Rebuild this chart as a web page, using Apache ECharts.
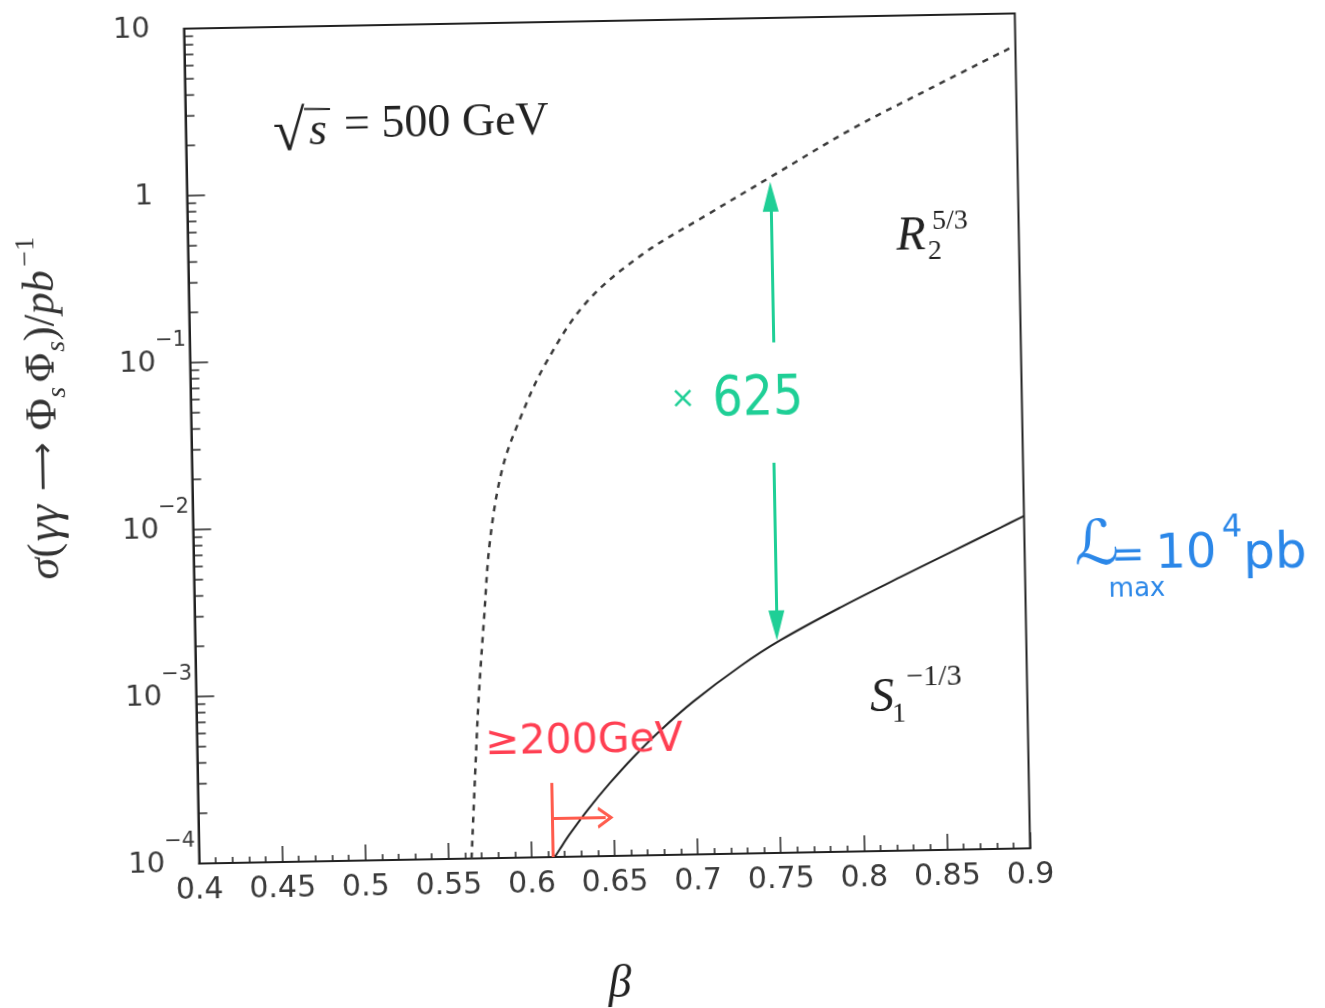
<!DOCTYPE html>
<html><head><meta charset="utf-8">
<script src="https://cdn.jsdelivr.net/npm/echarts@6/dist/echarts.min.js"></script>
<style>
html,body{margin:0;padding:0;background:#fff;overflow:hidden;}
#c{width:1325px;height:1008px;transform:rotate(-1.05deg);transform-origin:607px 438.5px;}
</style></head><body><div id="c"></div>
<script>
// ---- data ----
const betaDotted  = [0.5639, 0.5675, 0.5700, 0.5740, 0.5786, 0.5867, 0.5980, 0.6140, 0.6388, 0.6724, 0.7133, 0.7516, 0.8004, 0.8490, 0.8977];
const sigmaDotted = [1.0e-4, 3.88e-4, 9.29e-4, 2.69e-3, 8.13e-3, 2.14e-2, 4.27e-2, 9.06e-2, 0.206, 0.391, 0.679, 1.12, 2.11, 3.66, 6.27];
const betaSolid   = [0.614, 0.617, 0.623, 0.634, 0.648, 0.662, 0.679, 0.699, 0.728, 0.752, 0.789, 0.825, 0.855, 0.886, 0.900];
const sigmaSolid  = [1.0e-4, 1.109e-4, 1.355e-4, 1.884e-4, 2.738e-4, 3.853e-4, 5.587e-4, 8.23e-4, 1.331e-3, 1.874e-3, 2.919e-3, 4.346e-3, 6.013e-3, 8.41e-3, 9.79e-3];
const xTickLabels = ['0.4','0.45','0.5','0.55','0.6','0.65','0.7','0.75','0.8','0.85','0.9'];
const yTickExponents = [-4, -3, -2, -1, 0, 1];
const yLabelBase = ['10','10','10','10','1','10'];
const yLabelExp  = ['\u22124','\u22123','\u22122','\u22121','',''];
// hand-drawn annotations (data coordinates)
const arrowUp   = {beta: 0.751, from: 0.114, to: 0.85};
const arrowDown = {beta: 0.750, from: 0.0217, to: 2.30e-3};
const thresholdBeta = 0.613;
const thresholdBar = {from: 1.0e-4, to: 2.78e-4};
const thresholdArrow = {y: 1.70e-4, to: 0.645};

const yMinorTicks = [];
for (let k = -4; k <= 0; k++) for (let m = 2; m <= 9; m++) yMinorTicks.push(m * Math.pow(10, k));

// ---- helpers for positioning text in the (slightly rotated) scanned frame ----
const TH = 1.05 * Math.PI / 180, CX = 607, CY = 438.5;
function P(x, y) { const rx = x - CX, ry = y - CY; return [CX + rx * Math.cos(TH) - ry * Math.sin(TH), CY + rx * Math.sin(TH) + ry * Math.cos(TH)]; }
function T(x, y, text, st, extra) {
  const p = P(x, y);
  return Object.assign({type: 'text', x: p[0], y: p[1], silent: true, z: 10,
    style: Object.assign({text: text, align: 'center', verticalAlign: 'middle', fill: '#222'}, st)}, extra || {});
}
const SERIF = 'Liberation Serif, DejaVu Serif, serif';
const SANS = 'DejaVu Sans, Liberation Sans, sans-serif';
const HAND = 'DejaVu Sans, sans-serif';
const GREEN = '#1fcf96', RED = '#ff3f52', ORANGE = '#ff5c4d', BLUE = '#2b87e8';

const bar1 = P(304, 109), bar2 = P(330, 109);

const chart = echarts.init(document.getElementById('c'), null, {renderer: 'canvas'});
chart.setOption({
  animation: false,
  backgroundColor: '#fff',
  grid: {left: 191.5, top: 21, width: 831, height: 835, show: true, borderColor: '#222', borderWidth: 2,
         backgroundColor: 'transparent', containLabel: false, outerBoundsMode: 'none'},
  xAxis: {
    type: 'value', min: 0.4, max: 0.9, interval: 0.05,
    axisLine: {show: true, lineStyle: {color: '#222', width: 2}},
    axisTick: {show: true, inside: true, length: 16, lineStyle: {color: '#222', width: 1.5}},
    minorTick: {show: true, splitNumber: 5, length: 6, lineStyle: {color: '#222', width: 1.5}},
    splitLine: {show: false}, minorSplitLine: {show: false},
    axisLabel: {show: true, margin: 12, fontSize: 30, fontFamily: SANS, color: '#3a3a3a', showMinLabel: true, showMaxLabel: true,
      formatter: v => xTickLabels[Math.round((v - 0.4) / 0.05)]}
  },
  yAxis: {
    type: 'log', logBase: 10, min: 1e-4, max: 10,
    axisLine: {show: true, lineStyle: {color: '#222', width: 2}},
    axisTick: {show: true, inside: true, length: 18, lineStyle: {color: '#222', width: 1.5}},
    minorTick: {show: false}, splitLine: {show: false},
    axisLabel: {show: true, margin: 4, showMinLabel: true, showMaxLabel: true,
      formatter: v => {
        const e = Math.round(Math.log10(v));
        const i = yTickExponents.indexOf(e);
        return yLabelExp[i] ? '{b|' + yLabelBase[i] + '}{s|' + yLabelExp[i] + '}' : '{b|' + yLabelBase[i] + '}{z|}';
      },
      rich: {
        b: {fontSize: 29, fontFamily: SANS, color: '#3a3a3a'},
        s: {fontSize: 21, fontFamily: SANS, color: '#3a3a3a', width: 30, align: 'left', padding: [0, 0, 44, 0]},
        z: {width: 30}
      }
    }
  },
  series: [
    {type: 'line', name: 'R2', data: betaDotted.map((b, i) => [b, sigmaDotted[i]]), showSymbol: false, smooth: 0.35,
     lineStyle: {color: '#3a3a3a', width: 2.5, type: [6, 6]}, z: 4},
    {type: 'line', name: 'S1', data: betaSolid.map((b, i) => [b, sigmaSolid[i]]), showSymbol: false, smooth: 0.35,
     lineStyle: {color: '#222', width: 2}, z: 4},
    {type: 'custom', name: 'minorTicksY', data: yMinorTicks.map(v => [0.4, v]), silent: true, z: 3,
     renderItem: (params, api) => {
       const p = api.coord([api.value(0), api.value(1)]);
       return {type: 'line', shape: {x1: p[0], y1: p[1], x2: p[0] + 9, y2: p[1]}, style: {stroke: '#222', lineWidth: 1.5}};
     }},
    {type: 'line', name: 'notes', data: [], silent: true, z: 6,
     markLine: {silent: true, animation: false, label: {show: false}, symbol: ['none', 'none'],
       emphasis: {disabled: true},
       data: [
         [{coord: [arrowUp.beta, arrowUp.from], symbol: 'none', lineStyle: {color: GREEN, width: 3, type: 'solid'}},
          {coord: [arrowUp.beta, arrowUp.to], symbol: 'triangle', symbolSize: [16, 30], lineStyle: {color: GREEN, width: 3, type: 'solid'}}],
         [{coord: [arrowDown.beta, arrowDown.from], symbol: 'none', lineStyle: {color: GREEN, width: 3, type: 'solid'}},
          {coord: [arrowDown.beta, arrowDown.to], symbol: 'triangle', symbolSize: [16, 30], lineStyle: {color: GREEN, width: 3, type: 'solid'}}],
         [{coord: [thresholdBeta, thresholdBar.from], symbol: 'none', lineStyle: {color: ORANGE, width: 3, type: 'solid'}},
          {coord: [thresholdBeta, thresholdBar.to], symbol: 'none', lineStyle: {color: ORANGE, width: 3, type: 'solid'}}],
         [{coord: [thresholdBeta, thresholdArrow.y], symbol: 'none', lineStyle: {color: ORANGE, width: 3, type: 'solid'}},
          {coord: [thresholdArrow.to, thresholdArrow.y], symbol: 'path://M0,20 L10,0 L20,20 L17,21 L10,7 L3,21 Z', symbolSize: [22, 16], lineStyle: {color: ORANGE, width: 3, type: 'solid'}}]
       ]}}
  ],
  graphic: [
    // sqrt(s) = 500 GeV
    T(289, 135, '\u221A', {fontFamily: SERIF, fontSize: 58}),
    T(318, 132, 's', {fontFamily: SERIF, fontStyle: 'italic', fontSize: 46}),
    {type: 'line', silent: true, z: 10, shape: {x1: bar1[0], y1: bar1[1], x2: bar2[0], y2: bar2[1]}, style: {stroke: '#222', lineWidth: 2}},
    T(344, 126, '= 500 GeV', {fontFamily: SERIF, fontSize: 46, align: 'left'}),
    // R_2^{5/3}
    T(911, 237, 'R', {fontFamily: SERIF, fontStyle: 'italic', fontSize: 48}),
    T(935, 252, '2', {fontFamily: SERIF, fontSize: 28}),
    T(950, 221, '5/3', {fontFamily: SERIF, fontSize: 28}),
    // S_1^{-1/3}
    T(882, 698, 'S', {fontFamily: SERIF, fontStyle: 'italic', fontSize: 48}),
    T(899, 714, '1', {fontFamily: SERIF, fontSize: 28}),
    T(934, 677, '\u22121/3', {fontFamily: SERIF, fontSize: 30}),
    // axis titles
    T(620, 985, '\u03B2', {fontFamily: SERIF, fontStyle: 'italic', fontSize: 46}),
    T(44, 408, '{i|\u03C3}{u|(}{g|\u03B3\u03B3}{a|\u27F6}{u|\u03A6}{sb|s}{o|\u03A6\u0304}{sb|s}{u|)/}{i|pb}{sp|\u22121}', {
      fill: '#333',
      rich: {
        i: {fontFamily: SERIF, fontStyle: 'italic', fontSize: 44, fill: '#333'},
        g: {fontFamily: SERIF, fontStyle: 'italic', fontSize: 46, fill: '#333', padding: [0, 4, 0, 2]},
        u: {fontFamily: SERIF, fontSize: 44, fill: '#333'},
        o: {fontFamily: 'DejaVu Serif, serif', fontSize: 38, fill: '#333', padding: [0, 0, 0, 4]},
        a: {fontFamily: 'DejaVu Sans, sans-serif', fontSize: 34, fill: '#333', padding: [0, 12, 0, 10]},
        sb: {fontFamily: SERIF, fontStyle: 'italic', fontSize: 28, fill: '#333', padding: [28, 0, 0, 0]},
        sp: {fontFamily: SERIF, fontSize: 28, fill: '#333', padding: [0, 0, 30, 4]}
      }}, {rotation: Math.PI / 2}),
    // green annotation
    T(683, 400, '\u00D7', {fontFamily: HAND, fontSize: 30, fill: GREEN}),
    T(758, 400, '625', {fontFamily: HAND, fontSize: 56, fill: GREEN}, {scaleX: 0.85}),
    // red annotation
    T(584, 742, '\u2265200GeV', {fontFamily: HAND, fontSize: 41, fill: RED}),
    // blue annotation
    T(1097, 548, '\u2112', {fontFamily: HAND, fontSize: 62, fill: BLUE}),
    T(1128, 557, '=', {fontFamily: HAND, fontSize: 40, fill: BLUE}),
    T(1186, 555, '10', {fontFamily: HAND, fontSize: 48, fill: BLUE}),
    T(1232, 528, '4', {fontFamily: HAND, fontSize: 32, fill: BLUE}),
    T(1275, 555, 'pb', {fontFamily: HAND, fontSize: 50, fill: BLUE}),
    T(1137, 590, 'max', {fontFamily: HAND, fontSize: 26, fill: BLUE})
  ]
});
</script>
</body></html>
